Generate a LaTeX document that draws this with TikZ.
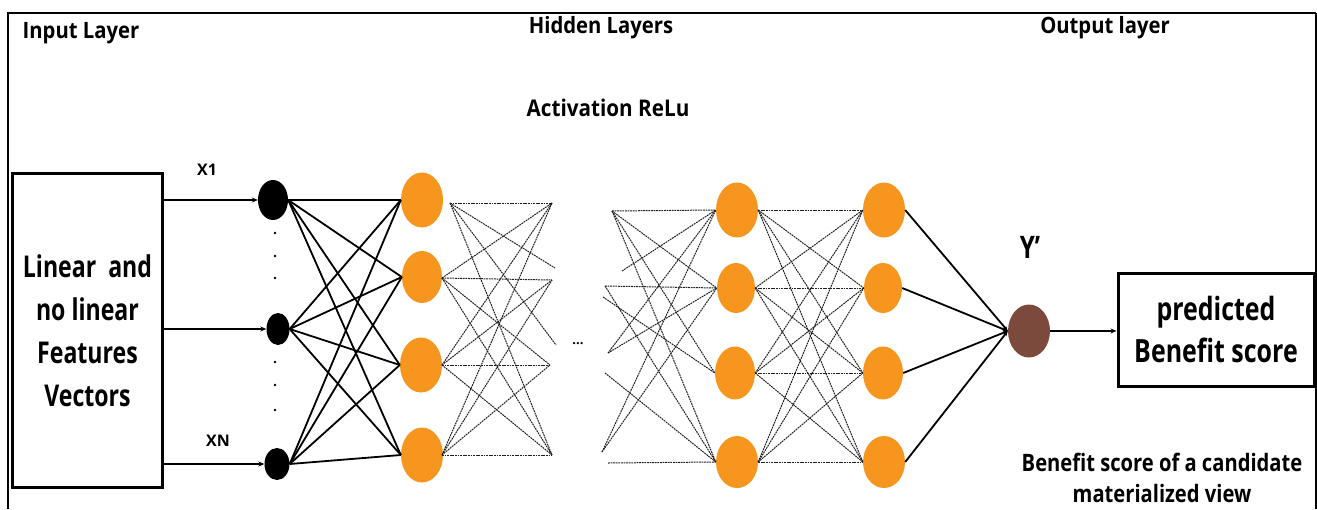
\documentclass[tikz,border=0pt]{standalone}
\usepackage{fontspec}
\setmainfont{Open Sans}[FakeStretch=0.9]
\newfontfamily\fontHdr{Open Sans}[FakeStretch=0.9]
\newfontfamily\fontBig{Open Sans}[FakeStretch=0.77]
\newfontfamily\fontPred{Open Sans}[FakeStretch=0.78]
\newfontfamily\fontNote{Open Sans}[FakeStretch=0.84]
\newfontfamily\fontX{Open Sans}
\usetikzlibrary{arrows.meta,shapes.geometric}
\definecolor{nnorange}{RGB}{246,150,30}
\definecolor{nnbrown}{RGB}{124,74,60}
\definecolor{dashgray}{RGB}{30,30,30}
\tikzset{
  hid/.style={ellipse,fill=nnorange,draw=none,inner sep=0pt,minimum width=42pt,minimum height=55pt},
  inp/.style={ellipse,fill=black,draw=none,inner sep=0pt},
  outn/.style={ellipse,fill=nnbrown,draw=none,inner sep=0pt,minimum width=42pt,minimum height=53pt},
  hdr/.style={font=\fontHdr\bfseries\fontsize{22.5}{26}\selectfont,inner sep=0pt},
  solidln/.style={line width=1.8pt,black},
  dashln/.style={line width=1pt,dashgray,dash pattern=on 1.8pt off 0.8pt},
  arr/.style={line width=1.4pt,-{Stealth[length=6pt,width=5pt]}},
  dotn/.style={circle,fill=black,inner sep=0pt,minimum size=2.6pt},
}
\begin{document}
\begin{tikzpicture}[x=1pt,y=-1pt]
\useasboundingbox (0,0) rectangle (1317,509);
% frame
\draw[line width=1.6pt] (8,509) -- (8,13.5);
\draw[line width=2.6pt] (7.2,13) -- (1316,13);
\draw[line width=1.2pt] (1316,13) -- (1316,509);
% headers
\node[hdr] (tin) at (81,33) {Input Layer};
\node[hdr] (thid) at (601,28) {Hidden Layers};
\node[hdr] (tout) at (1105,28) {Output layer};
\node[hdr,font=\fontHdr\bfseries\fontsize{23}{26}\selectfont] (tact) at (608,108) {Activation ReLu};
% input box
\node[draw,line width=3pt,minimum width=150pt,minimum height=314pt,align=center,
      font=\fontBig\bfseries\fontsize{30}{43}\selectfont] (box) at (87.5,330.5)
      {Linear\ \ and\\no linear\\Features\\Vectors};
% input nodes
\node[inp,minimum width=30pt,minimum height=40pt] (i1) at (273,200) {};
\node[inp,minimum width=23pt,minimum height=32pt] (i2) at (278,329) {};
\node[inp,minimum width=25pt,minimum height=32pt] (i3) at (277,464) {};
\node[font=\fontX\bfseries\fontsize{16}{18}\selectfont] (lx1) at (207,170) {X1};
\node[font=\fontX\bfseries\fontsize{16}{18}\selectfont] (lxn) at (218,441) {XN};
\foreach \y/\n in {233/a,256/b,278/c,362/d,385/e,410/f} \node[dotn] (d\n) at (275,\y) {};
\draw[arr] (i1.west -| box.east) -- (i1.west);
\draw[arr] (i2.west -| box.east) -- (i2.west);
\draw[arr] (i3.west -| box.east) -- (i3.west);
% hidden layer 1
\node[hid] (h11) at (422,200) {};
\node[hid,minimum width=40pt,minimum height=52pt] (h12) at (422,277) {};
\node[hid] (h13) at (421,365) {};
\node[hid] (h14) at (422,455) {};
% hidden layer 2
\node[hid] (h21) at (737,210) {};
\node[hid,minimum width=38pt,minimum height=50pt] (h22) at (736,288) {};
\node[hid,minimum width=40pt,minimum height=53pt] (h23) at (735,373) {};
\node[hid,minimum height=52pt] (h24) at (737,462) {};
% hidden layer 3
\node[hid] (h31) at (884,210) {};
\node[hid,minimum width=38pt,minimum height=50pt] (h32) at (883,288) {};
\node[hid,minimum width=40pt,minimum height=53pt] (h33) at (883,373) {};
\node[hid,minimum height=52pt] (h34) at (884,462) {};
% output
\node[outn] (o) at (1029,331) {};
\node[font=\fontPred\bfseries\fontsize{31}{32}\selectfont] (ly) at (1030,247) {Y’};
\node[draw,line width=3pt,minimum width=196pt,minimum height=113pt,align=center,
      font=\fontPred\bfseries\fontsize{32}{42}\selectfont] (pred) at (1216,329.5) {predicted\\Benefit score};
\node[align=center,inner sep=0pt,font=\fontNote\bfseries\fontsize{24}{31}\selectfont] (note) at (1162,478) {Benefit score of a candidate\\materialized view};
\draw[arr] (o.east) -- (pred.west |- o.east);
% input -> layer 1
\foreach \i in {1,2,3} \foreach \j in {1,2,3,4} \draw[solidln] (i\i.east) -- (h1\j.west);
% layer 3 -> output
\foreach \j in {1,2,3,4} \draw[solidln,-{Stealth[length=5pt,width=4pt]}] (h3\j.east) -- (o.west);
% dashed group 1 (layer 1 -> free ends)
\coordinate (p1) at (450,203);
\coordinate (p2) at (442,278);
\coordinate (p3) at (442,365);
\coordinate (p4) at (442,455);
\coordinate (a1) at (552,203);
\coordinate (a2) at (555,268);
\coordinate (a3) at (552,280);
\coordinate (a4) at (556,345);
\coordinate (a5) at (550,365);
\coordinate (a6) at (552,455);
\foreach \s/\t in {p1/a1,p1/a2,p1/a4,p1/a6,p2/a1,p2/a3,p2/a5,p2/a6,p3/a1,p3/a3,p3/a5,p3/a6,p4/a1,p4/a3,p4/a5,p4/a6}
  \draw[dashln] (\s) -- (\t);
\node[font=\fontX\bfseries\fontsize{13}{14}\selectfont] (ell) at (578,344) {...};
% dashed group 2 (free ends -> layer 2)
\coordinate (b1) at (612,211);
\coordinate (b2) at (622,271);
\coordinate (b3) at (605,286);
\coordinate (b4) at (603,297);
\coordinate (b5) at (608,353);
\coordinate (b6) at (605,373);
\coordinate (b7) at (602,452);
\coordinate (b8) at (608,463);
\foreach \s/\t in {b1/h21,b1/h22,b1/h23,b1/h24,b2/h21,b3/h22,b3/h24,b4/h23,b5/h21,b5/h22,b6/h24,b7/h21,b7/h22,b8/h24}
  \draw[dashln] (\s) -- (\t.west);
% dashed layer 2 -> layer 3
\foreach \i in {1,2,3,4} \foreach \j in {1,2,3,4} \draw[dashln] (h2\i.east) -- (h3\j.west);
\end{tikzpicture}
\end{document}
